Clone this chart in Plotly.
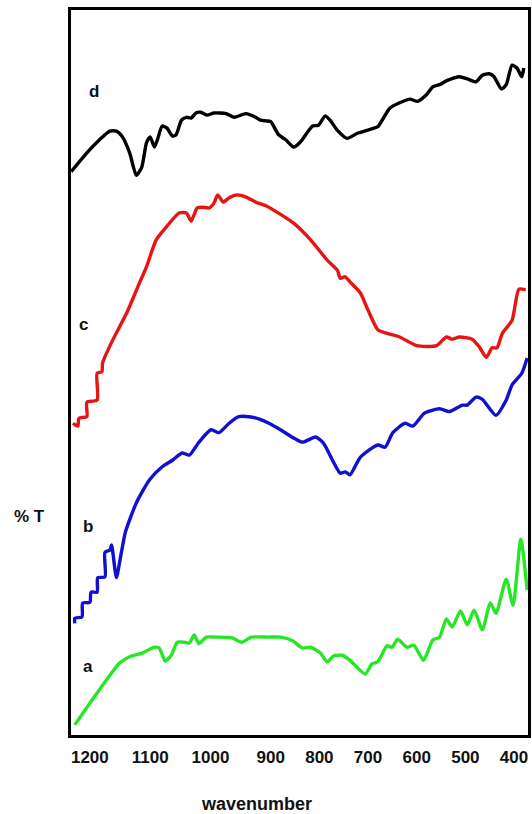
import numpy as np
import plotly.graph_objects as go

# FTIR transmittance spectra (arbitrary vertical offsets), wavenumber in cm-1
wn_d = [1231, 1205, 1184, 1167, 1156, 1146, 1134, 1123, 1114, 1106, 1100, 1093, 1088, 1080,
        1072, 1063, 1057, 1048, 1040, 1032, 1024, 1016, 1006, 994, 974, 961, 941, 925, 917,
        908, 900, 884, 869, 853, 839, 824, 814, 802, 788, 778, 763, 743, 722, 702, 680, 671,
        655, 635, 614, 598, 580, 567, 553, 537, 512, 496, 478, 465, 451, 441, 426, 416, 404,
        394, 384, 380]
t_d = [77.7, 80.3, 82.1, 83.3, 83.3, 82.5, 80.3, 77.2, 78.3, 81.7, 82.5, 81.1, 82.1, 84.0,
       83.7, 82.6, 82.8, 84.8, 85.2, 85.1, 85.8, 85.9, 85.5, 85.8, 85.7, 85.2, 85.7, 85.2, 84.8,
       84.7, 84.6, 82.8, 82.1, 81.1, 81.8, 83.2, 84.0, 84.1, 85.4, 84.8, 83.4, 82.3, 83.0, 83.4,
       83.9, 84.8, 86.5, 87.2, 87.7, 87.4, 88.3, 89.4, 89.7, 90.3, 90.8, 90.5, 90.1, 91.0, 91.2,
       90.8, 89.1, 89.7, 92.4, 92.0, 90.8, 92.0]

wn_c = [1228, 1220, 1218, 1205, 1205, 1188, 1188, 1180, 1179, 1162, 1139, 1118, 1106, 1090,
        1073, 1052, 1040, 1032, 1022, 1014, 1002, 994, 988, 979, 969, 956, 941, 925, 908, 894,
        853, 818, 784, 763, 757, 747, 737, 716, 700, 680, 661, 635, 600, 559, 539, 527, 512,
        486, 471, 457, 445, 435, 424, 404, 390, 376]
t_c = [43.0, 42.6, 43.7, 43.9, 45.9, 46.2, 49.9, 50.1, 51.3, 54.5, 58.2, 62.3, 64.6, 68.3,
       70.1, 72.0, 72.0, 70.9, 72.7, 72.8, 72.7, 73.4, 74.5, 73.5, 74.1, 74.5, 74.2, 73.5, 73.0,
       72.4, 70.6, 68.3, 65.5, 64.1, 63.0, 63.2, 62.5, 61.0, 58.6, 55.9, 55.4, 54.9, 53.7, 53.7,
       54.9, 54.6, 54.9, 54.6, 53.5, 52.1, 53.4, 53.4, 55.4, 57.2, 61.5, 61.4]

wn_b = [1225, 1225, 1213, 1212, 1200, 1198, 1188, 1187, 1175, 1175, 1167, 1164, 1156, 1149,
        1141, 1123, 1101, 1080, 1063, 1047, 1035, 1019, 999, 986, 969, 953, 936, 920, 903, 880,
        835, 808, 792, 773, 757, 747, 737, 716, 680, 665, 649, 624, 608, 584, 553, 533, 506,
        496, 478, 465, 437, 416, 404, 384, 373]
t_b = [15.4, 16.1, 16.3, 18.2, 18.3, 19.7, 19.7, 21.7, 21.8, 25.2, 25.5, 26.2, 21.7, 24.6,
       28.0, 32.0, 35.2, 37.0, 37.9, 38.9, 38.6, 40.4, 42.1, 41.7, 43.0, 43.9, 43.9, 43.6, 43.0,
       42.1, 40.4, 41.1, 40.3, 37.9, 36.1, 36.3, 35.9, 38.3, 40.0, 39.7, 41.7, 43.0, 42.6, 44.4,
       45.0, 44.6, 45.5, 45.5, 46.6, 46.3, 44.1, 46.2, 48.3, 49.9, 52.0]

wn_a = [1225, 1188, 1151, 1134, 1113, 1093, 1085, 1075, 1065, 1055, 1044, 1035, 1027, 1019,
        1007, 991, 964, 948, 932, 903, 880, 855, 835, 818, 798, 784, 771, 753, 737, 706, 692,
        680, 661, 651, 639, 620, 606, 586, 567, 553, 539, 527, 510, 496, 482, 465, 449, 437,
        416, 402, 386, 373]
t_a = [1.4, 5.8, 9.9, 10.8, 11.3, 12.1, 12.0, 10.2, 11.0, 12.8, 12.8, 12.7, 13.8, 12.6,
       13.5, 13.5, 13.4, 12.8, 13.5, 13.5, 13.5, 13.0, 12.0, 12.1, 11.3, 10.1, 10.9, 11.0, 10.3,
       8.4, 9.8, 10.1, 12.3, 12.1, 13.2, 12.1, 12.4, 10.3, 13.1, 13.5, 16.0, 14.9, 17.1, 15.2,
       17.2, 14.5, 18.2, 16.8, 21.5, 17.9, 27.0, 20.0]

tick_labels = [1200, 1100, 1000, 900, 800, 700, 600, 500, 400]
series_names = ["a", "b", "c", "d"]


# wavenumber scale: below 900 cm-1 the axis is compressed
def axis_pos(wn):
    wn = np.asarray(wn, dtype=float)
    return np.where(wn >= 900, (1200 - wn) / 100.0, 3 + 0.807 * (900 - wn) / 100.0)


FONT = "Liberation Sans, Arial, sans-serif"
series = [
    (wn_a, t_a, "#26e626"),
    (wn_b, t_b, "#1010d0"),
    (wn_c, t_c, "#e81414"),
    (wn_d, t_d, "#000000"),
]

fig = go.Figure()
for (wn, t, col), name in zip(series, series_names):
    fig.add_trace(go.Scatter(x=axis_pos(wn), y=t, mode="lines", name=name,
                             line=dict(color=col, width=3.4, shape="spline", smoothing=0.6),
                             showlegend=False))

# curve letters
label_pos = {"a": (1203, 9.4), "b": (1203, 28.7), "c": (1211, 56.6), "d": (1193, 88.7)}
for name in series_names:
    wn, t = label_pos[name]
    fig.add_annotation(x=float(axis_pos(wn)), y=t, xref="x", yref="y", text=f"<b>{name}</b>",
                       xanchor="center", yanchor="middle", showarrow=False,
                       font=dict(family=FONT, size=17, color="#111"))

fig.add_annotation(x=-0.0913, y=0.3007, xref="paper", yref="paper", text="<b>% T</b>",
                   xanchor="center", yanchor="middle", showarrow=False,
                   font=dict(family=FONT, size=17, color="#111"))
fig.add_annotation(x=0.4065, y=-0.0952, xref="paper", yref="paper", text="<b>wavenumber</b>",
                   xanchor="center", yanchor="middle", showarrow=False,
                   font=dict(family=FONT, size=18, color="#111"))

fig.update_xaxes(range=[-0.313, 7.267], tickvals=axis_pos(tick_labels).tolist(),
                 ticktext=[f"<b>{v}</b>" for v in tick_labels], ticks="",
                 tickfont=dict(family=FONT, size=17, color="#111"),
                 showgrid=False, zeroline=False, showline=True, linecolor="black",
                 linewidth=3, mirror=True, ticklabelstandoff=5)
fig.update_yaxes(range=[0, 100], showticklabels=False, ticks="", showgrid=False,
                 zeroline=False, showline=True, linecolor="black", linewidth=3, mirror=True)

fig.update_layout(width=532, height=814, margin=dict(l=71, r=1, t=10, b=79),
                  paper_bgcolor="white", plot_bgcolor="white")

fig.write_html("out.html")
